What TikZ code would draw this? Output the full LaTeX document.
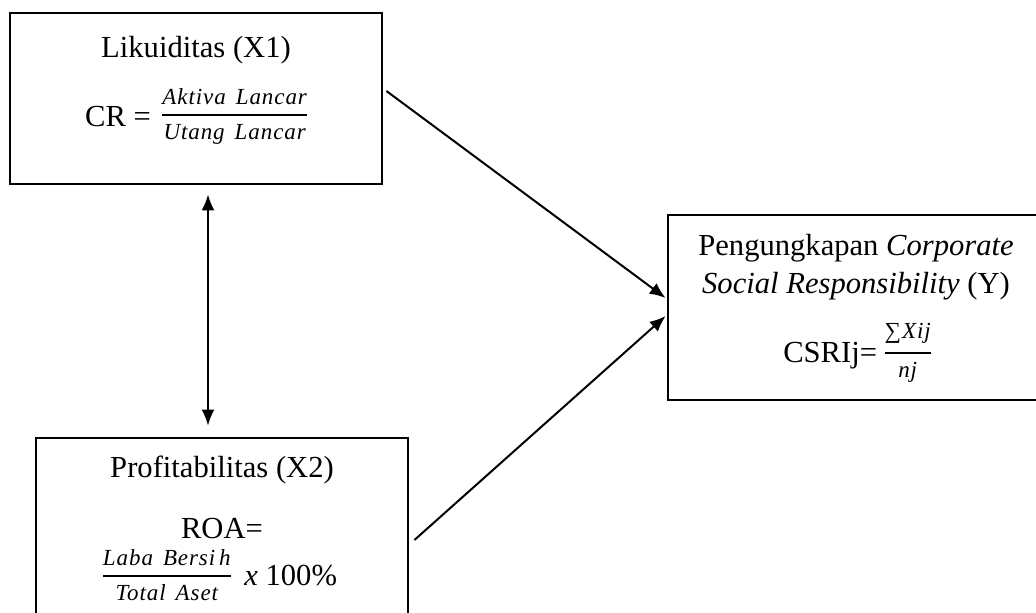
\documentclass[tikz,border=0pt]{standalone}
\usepackage{fontspec}
\setmainfont{Liberation Serif}
\newfontfamily\fracfont{Liberation Serif}[LetterSpace=4]
\usetikzlibrary{arrows.meta}
\newcommand{\fpart}[1]{\hbox{\fracfont\itshape\fontsize{11.5}{12}\selectfont #1}}
\newcommand{\fr}[2]{\raisebox{1.2pt}{$\vcenter{\offinterlineskip\halign{\hfil##\hfil\cr\fpart{#1}\cr\noalign{\kern4.5pt\hrule height 1pt\kern4pt}\fpart{#2}\cr}}$}}
\begin{document}
\begin{tikzpicture}[x=0.5pt,y=-0.5pt,
  box/.style={draw, line width=1.4pt, rectangle, inner sep=0pt},
  lbl/.style={anchor=base, font=\fontsize{15.3}{19}\selectfont, inner sep=0pt},
  arr/.style={line width=1pt, -{Latex[length=8pt,width=6.5pt]}},
  dbl/.style={line width=1pt, {Latex[length=8pt,width=6.5pt]}-{Latex[length=8pt,width=6.5pt]}}]
\useasboundingbox (0,0) rectangle (1036,612);
\clip (0,0) rectangle (1036,612);
% boxes
\node[box, minimum width=186pt, minimum height=85.5pt] (x1) at (196,98.5) {};
\node[box, minimum width=186pt, minimum height=96pt] (x2) at (222,534) {};
\node[box, minimum width=188pt, minimum height=92.5pt] (y) at (856,307.5) {};
% texts
\node[lbl] (x1t) at (196,57) {Likuiditas (X1)};
\node[lbl] (x1f) at (196,126) {CR =\hspace{2pt} \fr{Aktiva\hspace{5pt}Lancar}{Utang\hspace{5pt}Lancar}};
\node[lbl] (x2t) at (222,477) {Profitabilitas (X2)};
\node[lbl] (x2r) at (222,538) {ROA=};
\node[lbl] (x2f) at (220,585) {\fr{Laba\hspace{5pt}Bersi\hspace{2pt}h}{Total\hspace{5pt}Aset}\hspace{3pt} \textit{x} 100\%};
\node[lbl] (yt1) at (856,255) {Pengungkapan \textit{Corporate}};
\node[lbl] (yt2) at (856,293) {\textit{Social Responsibility} (Y)};
\node[lbl] (yf) at (857,362) {CSRIj= \fr{∑Xij}{nj}};
% connectors
\draw[arr] ([shift={(3,-7.5)}]x1.east) -- ([shift={(-1,-9.5)}]y.west);
\draw[arr] ([shift={(5,6)}]x2.east) -- ([shift={(-1,8.5)}]y.west);
\draw[dbl] ([shift={(12,9)}]x1.south) -- ([shift={(-14,-11)}]x2.north);
\end{tikzpicture}
\end{document}
